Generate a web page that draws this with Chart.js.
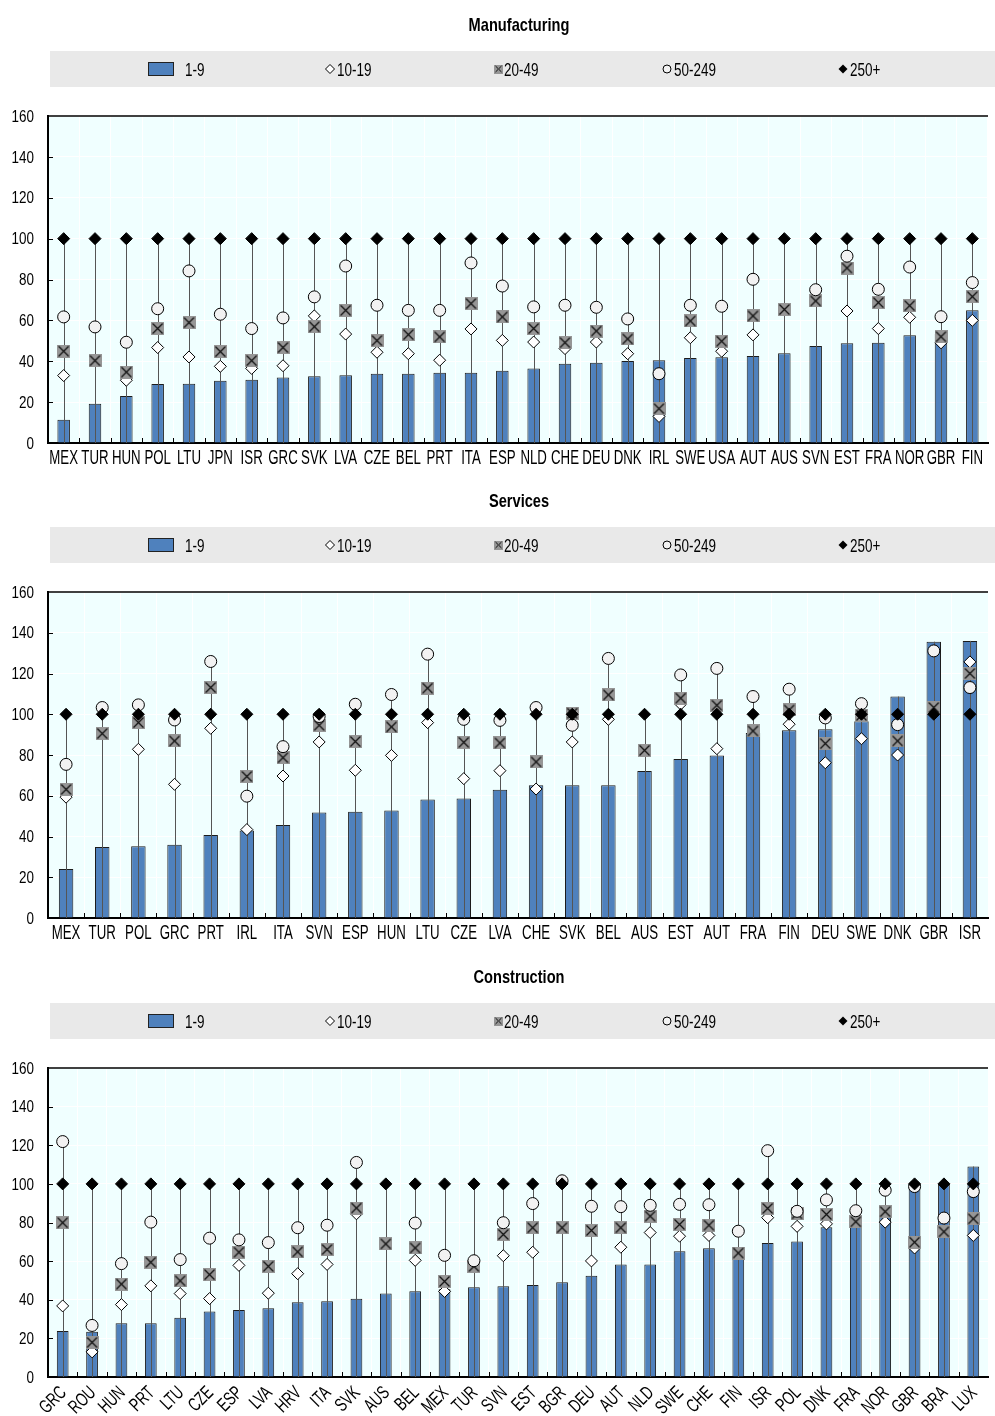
<!DOCTYPE html>
<html>
<head>
<meta charset="utf-8">
<script src="https://cdn.jsdelivr.net/npm/chart.js@4.4.1/dist/chart.umd.min.js"></script>
<style>
  html, body { margin: 0; padding: 0; background: #fff; }
  body { width: 995px; height: 1416px; position: relative; overflow: hidden; }
  .panel { position: absolute; left: 0; width: 995px; }
  canvas { display: block; }
</style>
</head>
<body>
<div class="panel" style="top:0;height:476px"><canvas id="manufacturing" width="995" height="476"></canvas></div>
<div class="panel" style="top:476px;height:476px"><canvas id="services" width="995" height="476"></canvas></div>
<div class="panel" style="top:952px;height:464px"><canvas id="construction" width="995" height="464"></canvas></div>

<script>
// ---- Firm size classes (number of persons employed) ----
const sizeClasses = ['1-9', '10-19', '20-49', '50-249', '250+'];

// ---- Manufacturing ----
const mfgCountries = ['MEX','TUR','HUN','POL','LTU','JPN','ISR','GRC','SVK','LVA','CZE','BEL','PRT','ITA','ESP','NLD','CHE','DEU','DNK','IRL','SWE','USA','AUT','AUS','SVN','EST','FRA','NOR','GBR','FIN'];
const mfg1to9    = [11.4,19.2,23.0,28.9,29.0,30.5,31.0,32.1,32.6,33.1,33.9,33.9,34.4,34.4,35.4,36.5,38.8,39.3,40.1,40.5,41.6,41.9,42.6,43.9,47.5,48.8,49.1,52.7,53.5,64.9];
const mfg10to19  = [33.0,null,30.7,46.7,42.1,37.5,36.5,37.8,62.2,53.3,44.4,43.7,40.5,55.8,50.2,49.4,46.2,49.4,43.7,13.0,51.5,44.9,52.9,null,null,64.6,56.0,61.5,49.0,60.0];
const mfg20to49  = [44.9,40.3,34.7,56.0,58.9,44.7,40.3,46.7,56.9,64.9,50.1,53.0,51.9,68.2,61.7,56.0,49.1,54.8,50.9,16.8,59.7,49.8,62.2,65.3,69.5,85.6,68.7,67.2,52.0,71.6];
const mfg50to249 = [61.7,56.8,49.3,65.7,84.2,63.0,56.0,61.2,71.5,86.6,67.4,64.9,64.9,88.1,76.8,66.6,67.4,66.4,60.7,33.9,67.4,66.9,80.1,null,75.0,91.4,75.2,86.1,61.8,78.5];
const mfg250     = [100,100,100,100,100,100,100,100,100,100,100,100,100,100,100,100,100,100,100,100,100,100,100,100,100,100,100,100,100,100];

// ---- Services ----
const svcCountries = ['MEX','TUR','POL','GRC','PRT','IRL','ITA','SVN','ESP','HUN','LTU','CZE','LVA','CHE','SVK','BEL','AUS','EST','AUT','FRA','FIN','DEU','SWE','DNK','GBR','ISR'];
const svc1to9    = [24.1,34.8,35.2,35.9,40.7,43.0,45.6,51.8,52.1,52.8,58.2,58.7,63.0,65.1,65.2,65.2,72.1,78.0,79.7,90.8,92.1,92.6,96.6,108.7,135.6,136.0];
const svc10to19  = [59.3,null,82.8,65.6,93.1,43.4,69.7,86.4,72.5,79.8,95.9,68.4,72.3,63.3,86.4,97.5,null,105.0,83.1,null,95.1,76.2,88.0,80.0,null,125.7];
const svc20to49  = [63.1,90.5,95.9,86.9,113.1,69.5,78.7,94.6,86.6,93.8,112.8,86.2,85.9,76.6,100.5,109.5,82.3,107.9,104.4,91.8,102.1,85.6,99.5,86.9,103.3,120.0];
const svc50to249 = [75.4,103.3,104.6,97.2,125.9,59.8,84.1,98.9,104.9,109.7,129.5,97.5,97.0,103.3,94.6,127.4,null,119.3,122.5,108.7,112.3,98.2,105.2,94.9,131.1,113.1];
const svc250     = [100,100,100,100,100,100,100,100,100,100,100,100,100,100,100,100,100,100,100,100,100,100,100,100,100,100];

// ---- Construction ----
const conCountries = ['GRC','ROU','HUN','PRT','LTU','CZE','ESP','LVA','HRV','ITA','SVK','AUS','BEL','MEX','TUR','SVN','EST','BGR','DEU','AUT','NLD','SWE','CHE','FIN','ISR','POL','DNK','FRA','NOR','GBR','BRA','LUX'];
const con1to9    = [23.8,23.4,27.8,27.8,30.7,33.9,34.7,35.6,38.7,39.2,40.5,43.2,44.4,45.5,46.5,47.0,47.7,49.1,52.4,58.3,58.3,65.1,66.7,67.0,69.4,70.1,77.6,80.0,83.3,100.0,100.0,109.0];
const con10to19  = [36.8,13.0,37.5,47.2,43.2,40.6,57.8,43.4,53.5,58.3,84.5,null,60.4,44.3,null,62.8,64.6,null,60.1,67.2,74.8,72.9,73.3,null,82.5,78.0,79.3,null,80.2,66.8,null,73.3];
const con20to49  = [79.9,17.9,48.1,59.4,49.8,53.0,64.6,57.3,64.8,66.0,87.5,68.9,66.8,49.5,57.3,73.8,77.3,77.3,75.9,77.3,83.3,79.0,78.6,64.2,87.3,84.5,84.2,80.4,85.6,69.8,75.2,81.9];
const con50to249 = [121.9,26.7,58.7,80.2,60.8,71.9,71.0,69.6,77.3,78.6,111.1,null,79.7,63.0,60.2,79.9,89.8,101.6,88.4,88.2,88.9,89.4,89.2,75.5,117.2,85.8,91.7,86.1,96.7,98.6,82.3,96.0];
const con250     = [100,100,100,100,100,100,100,100,100,100,100,100,100,100,100,100,100,100,100,100,100,100,100,100,100,100,100,100,100,100,100,100];

// ---- Axis ticks ----
const yMin = 0, yMax = 160, yStep = 20;

// ---- Styling ----
const FONT = "'Liberation Sans', Arial, sans-serif";
const BAR_BLUE = '#4f81bd';
const BOX_GREY = '#969696';
const CIRCLE_FILL = '#f2f2f2';
const PLOT_BG = '#f0ffff';
const BAND_GREY = '#e9e9e9';

Chart.defaults.font.family = FONT;
Chart.defaults.color = '#000';

// condensed text: regular face squeezed horizontally
function narrowText(ctx, text, x, y, o) {
  ctx.save();
  ctx.font = (o.bold ? 'bold ' : '') + o.size + 'px ' + FONT;
  ctx.fillStyle = '#000';
  ctx.textAlign = o.align || 'left';
  ctx.textBaseline = o.baseline || 'alphabetic';
  ctx.translate(x, y);
  if (o.rotate) ctx.rotate(o.rotate);
  ctx.scale(o.squeeze, 1);
  ctx.fillText(text, 0, 0);
  ctx.restore();
}

// grey square with a black cross, used as the 20-49 marker
function crossBox(size, lw) {
  const c = document.createElement('canvas');
  c.width = size; c.height = size;
  const g = c.getContext('2d');
  g.fillStyle = BOX_GREY;
  g.fillRect(0, 0, size, size);
  g.strokeStyle = '#111';
  g.lineWidth = lw;
  const p = 1.5;
  g.beginPath();
  g.moveTo(p, p); g.lineTo(size - p, size - p);
  g.moveTo(size - p, p); g.lineTo(p, size - p);
  g.stroke();
  return c;
}
const crossMarker = crossBox(13, 1.3);
const crossLegend = crossBox(9, 1);

function diamondPath(ctx, x, y, r) {
  ctx.beginPath();
  ctx.moveTo(x, y - r); ctx.lineTo(x + r, y); ctx.lineTo(x, y + r); ctx.lineTo(x - r, y);
  ctx.closePath();
}

// Title, legend band, plot background, stems, tick marks and tick labels
const panelDecor = {
  id: 'panelDecor',
  beforeDraw(chart, args, opts) {
    const ctx = chart.ctx, a = chart.chartArea;
    ctx.save();
    // plot background
    ctx.fillStyle = PLOT_BG;
    ctx.fillRect(a.left, a.top, a.right - a.left, a.bottom - a.top);
    // title
    narrowText(ctx, opts.title, 519, 30.5, { size: 19, bold: true, squeeze: 0.77, align: 'center' });
    // legend band
    ctx.fillStyle = BAND_GREY;
    ctx.fillRect(50, 51, 945, 36);
    const cy = 69, base = 76;
    const lt = { size: 19, squeeze: 0.71 };
    // 1-9
    ctx.fillStyle = BAR_BLUE;
    ctx.fillRect(148, 62, 26, 14);
    ctx.strokeStyle = '#222'; ctx.lineWidth = 1;
    ctx.strokeRect(148.5, 62.5, 25, 13);
    narrowText(ctx, sizeClasses[0], 185, base, lt);
    // 10-19
    diamondPath(ctx, 330, cy, 4.5);
    ctx.fillStyle = '#fff'; ctx.fill(); ctx.strokeStyle = '#000'; ctx.stroke();
    narrowText(ctx, sizeClasses[1], 337, base, lt);
    // 20-49
    ctx.drawImage(crossLegend, 494, cy - 4.5);
    narrowText(ctx, sizeClasses[2], 504, base, lt);
    // 50-249
    ctx.beginPath(); ctx.arc(667, cy, 4, 0, Math.PI * 2);
    ctx.fillStyle = CIRCLE_FILL; ctx.fill(); ctx.strokeStyle = '#000'; ctx.stroke();
    narrowText(ctx, sizeClasses[3], 674, base, lt);
    // 250+
    diamondPath(ctx, 843, cy, 4.5);
    ctx.fillStyle = '#000'; ctx.fill();
    narrowText(ctx, sizeClasses[4], 850, base, lt);
    ctx.restore();
  },
  afterDatasetDraw(chart, args) {
    if (args.meta.type !== 'bar') return;
    // vertical stem from zero up to the highest value of each country
    const ctx = chart.ctx, x = chart.scales.x, y = chart.scales.y;
    const sets = chart.data.datasets;
    ctx.save();
    ctx.strokeStyle = '#555';
    ctx.lineWidth = 1;
    chart.data.labels.forEach((lab, i) => {
      let top = -Infinity;
      sets.forEach(ds => { const v = ds.data[i]; if (v !== null && v !== undefined && v > top) top = v; });
      const px = Math.round(x.getPixelForValue(i)) + 0.5;
      ctx.beginPath();
      ctx.moveTo(px, y.getPixelForValue(0));
      ctx.lineTo(px, y.getPixelForValue(top));
      ctx.stroke();
    });
    ctx.restore();
  },
  afterDraw(chart, args, opts) {
    const ctx = chart.ctx, a = chart.chartArea, x = chart.scales.x, y = chart.scales.y;
    ctx.save();
    ctx.strokeStyle = '#000';
    // top frame line
    ctx.lineWidth = 1.5;
    ctx.beginPath(); ctx.moveTo(a.left, a.top); ctx.lineTo(a.right, a.top); ctx.stroke();
    // inward tick marks
    ctx.lineWidth = 1;
    const n = chart.data.labels.length;
    const step = x.getPixelForValue(1) - x.getPixelForValue(0);
    for (let i = 0; i < n - 1; i++) {
      const px = Math.round(x.getPixelForValue(i) + step / 2) + 0.5;
      ctx.beginPath(); ctx.moveTo(px, a.bottom); ctx.lineTo(px, a.bottom - 5); ctx.stroke();
    }
    y.ticks.forEach(t => {
      if (t.value <= yMin || t.value >= yMax) return;
      const py = Math.round(y.getPixelForValue(t.value)) + 0.5;
      ctx.beginPath(); ctx.moveTo(a.left, py); ctx.lineTo(a.left + 5, py); ctx.stroke();
    });
    // y tick labels
    y.ticks.forEach(t => {
      narrowText(ctx, String(t.value), 34, y.getPixelForValue(t.value) + 5.7, { size: 16, squeeze: 0.84, align: 'right' });
    });
    // category labels
    chart.data.labels.forEach((lab, i) => {
      const px = x.getPixelForValue(i);
      if (opts.rotate) {
        narrowText(ctx, lab, px + 1, a.bottom + 13, { size: 19, squeeze: 0.7, align: 'right', baseline: 'middle', rotate: -Math.PI / 4 });
      } else {
        narrowText(ctx, lab, px, a.bottom + 21, { size: 19.5, squeeze: 0.68, align: 'center' });
      }
    });
    ctx.restore();
  }
};

function makeChart(id, title, labels, s1, s10, s20, s50, s250, xHeight, rotate) {
  return new Chart(document.getElementById(id), {
    type: 'bar',
    data: {
      labels: labels,
      datasets: [
        { type: 'bar', label: sizeClasses[0], data: s1, backgroundColor: BAR_BLUE, borderColor: '#1c1c1c',
          borderWidth: 1, barPercentage: 0.4, categoryPercentage: 1, order: 5 },
        { type: 'line', label: sizeClasses[1], data: s10, showLine: false, pointStyle: 'rectRot', pointRadius: 6,
          pointHoverRadius: 6, pointBackgroundColor: '#fff', pointBorderColor: '#000', pointBorderWidth: 1, order: 4 },
        { type: 'line', label: sizeClasses[2], data: s20, showLine: false, pointStyle: crossMarker, pointRadius: 6,
          pointHoverRadius: 6, order: 3 },
        { type: 'line', label: sizeClasses[3], data: s50, showLine: false, pointStyle: 'circle', pointRadius: 6,
          pointHoverRadius: 6, pointBackgroundColor: CIRCLE_FILL, pointBorderColor: '#000', pointBorderWidth: 1, order: 2 },
        { type: 'line', label: sizeClasses[4], data: s250, showLine: false, pointStyle: 'rectRot', pointRadius: 6,
          pointHoverRadius: 6, pointBackgroundColor: '#000', pointBorderColor: '#000', pointBorderWidth: 1, order: 1 }
      ]
    },
    options: {
      responsive: false,
      animation: false,
      events: [],
      layout: { padding: { top: 116, left: 0, right: 0, bottom: 0 } },
      plugins: {
        legend: { display: false },
        title: { display: false },
        tooltip: { enabled: false },
        panelDecor: { title: title, rotate: rotate }
      },
      scales: {
        x: {
          type: 'category',
          offset: true,
          grid: { color: '#fff', lineWidth: 1, drawTicks: false, offset: true },
          border: { color: '#000', width: 2 },
          ticks: { display: false, autoSkip: false },
          afterFit: s => { s.height = xHeight; }
        },
        y: {
          min: yMin, max: yMax,
          grid: { color: '#fff', lineWidth: 1, drawTicks: false },
          border: { color: '#000', width: 2 },
          ticks: { display: false, stepSize: yStep },
          afterFit: s => { s.width = 48; }
        }
      }
    },
    plugins: [panelDecor]
  });
}

makeChart('manufacturing', 'Manufacturing', mfgCountries, mfg1to9, mfg10to19, mfg20to49, mfg50to249, mfg250, 33, false);
makeChart('services', 'Services', svcCountries, svc1to9, svc10to19, svc20to49, svc50to249, svc250, 34, false);
makeChart('construction', 'Construction', conCountries, con1to9, con10to19, con20to49, con50to249, con250, 39, true);
</script>
</body>
</html>
